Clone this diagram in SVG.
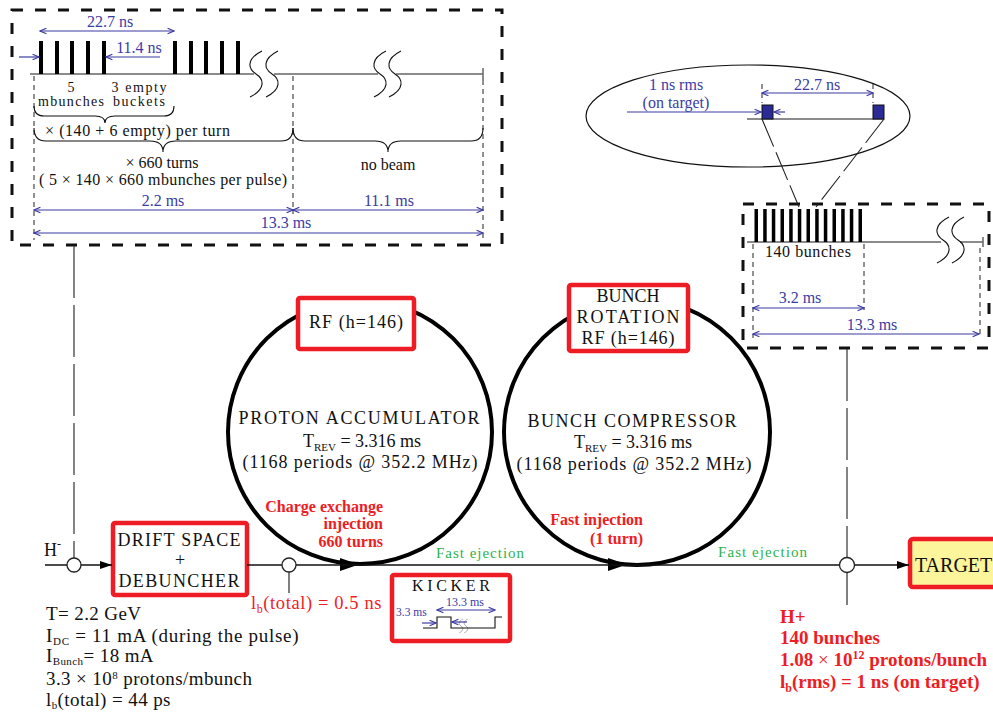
<svg xmlns="http://www.w3.org/2000/svg" width="993" height="715" viewBox="0 0 993 715">
<style>
.t{font-family:"Liberation Serif","Times New Roman",serif;fill:#111}
.b{fill:#3b3ba3}
.r{fill:#ee1c24;font-weight:bold}
.rr{fill:#ee1c24}
.g{fill:#2db34d}
.m{text-anchor:middle}
.e{text-anchor:end}
.box{fill:#fff;stroke:#ee1c24;stroke-width:4.5}
.tb{fill:none;stroke:#111;stroke-width:3;stroke-dasharray:11 12}
.dl{fill:none;stroke:#222;stroke-width:1;stroke-dasharray:5 4}
.ld{fill:none;stroke:#333;stroke-width:1.2;stroke-dasharray:52 7}
.ar{stroke:#3b3ba3;stroke-width:1.2;fill:none;marker-start:url(#ah);marker-end:url(#ah)}
.ae{stroke:#3b3ba3;stroke-width:1.2;fill:none;marker-end:url(#ah)}
.bl{stroke:#666;stroke-width:1.5;fill:none}
.ring{fill:none;stroke:#000;stroke-width:4}
.brk{fill:none;stroke:#111;stroke-width:1.1}
.jn{fill:#fff;stroke:#222;stroke-width:1.3}
.bar{fill:#000}
</style>
<defs>
<marker id="ah" viewBox="0 0 10 10" refX="9" refY="5" markerWidth="8" markerHeight="8" orient="auto-start-reverse" markerUnits="userSpaceOnUse"><path d="M1,1.5 L9,5 L1,8.5" fill="none" stroke="#3b3ba3" stroke-width="1.5"/></marker>
<marker id="fa" viewBox="0 0 12 10" refX="12" refY="5" markerWidth="13" markerHeight="10" orient="auto" markerUnits="userSpaceOnUse"><path d="M0,1 L12,5 L0,9 z" fill="#000"/></marker>
<path id="ss" d="M6,-23 C-10,-15 -8,-5 0,0 C8,5 10,15 -6,23"/>
</defs>

<g id="pulse-structure">
<rect class="tb" x="12" y="10" width="490" height="235"/>
<path class="bl" d="M30,74 H254 M274,74 H378 M396,74 H483 M483,68 V80"/>
<g class="bar">
<rect x="39" y="41" width="4" height="33"/><rect x="55" y="41" width="4" height="33"/><rect x="70" y="41" width="4" height="33"/><rect x="86" y="41" width="4" height="33"/><rect x="102" y="41" width="4" height="33"/>
<rect x="173" y="41" width="4" height="33"/><rect x="189" y="41" width="4" height="33"/><rect x="204" y="41" width="4" height="33"/><rect x="220" y="41" width="4" height="33"/><rect x="236" y="41" width="4" height="33"/>
</g>
<g class="brk">
<use href="#ss" transform="translate(256,74)"/><use href="#ss" transform="translate(272,74)"/>
<use href="#ss" transform="translate(380,74)"/><use href="#ss" transform="translate(395,74)"/>
</g>
<path class="dl" d="M34,76 V240 M293,76 V214 M483,80 V240"/>
<path class="ar" d="M40,31 H174"/>
<path class="ae" d="M19,57 H39"/>
<path class="ae" d="M160,57 H106"/>
<path class="ar" d="M34,210 H293"/>
<path class="ar" d="M293,210 H483"/>
<path class="ar" d="M34,233 H483"/>
<path class="brk" d="M34,106 Q34,116 44,116 H95 Q105,116 105,123 Q105,116 115,116 H164 Q174,116 174,106"/>
<path class="brk" d="M34,128 Q34,141 46,141 H150 Q163,141 163,152 Q163,141 176,141 H281 Q293,141 293,128"/>
<path class="brk" d="M293,128 Q293,141 305,141 H375 Q388,141 388,152 Q388,141 401,141 H471 Q483,141 483,128"/>
<text class="t b m" x="110" y="27" font-size="16">22.7 ns</text>
<text class="t b m" x="139" y="53" font-size="16">11.4 ns</text>
<text class="t m" x="71" y="92" font-size="14">5</text>
<text class="t m" x="71" y="106" font-size="14" textLength="66" lengthAdjust="spacing">mbunches</text>
<text class="t m" x="139" y="92" font-size="14" textLength="55" lengthAdjust="spacing">3 empty</text>
<text class="t m" x="139" y="106" font-size="14" textLength="52" lengthAdjust="spacing">buckets</text>
<text class="t" x="45" y="136" font-size="16" textLength="185" lengthAdjust="spacing">× (140 + 6 empty) per turn</text>
<text class="t m" x="162" y="168" font-size="16">× 660 turns</text>
<text class="t m" x="163" y="185" font-size="16" textLength="248" lengthAdjust="spacing">( 5 × 140 × 660 mbunches per pulse)</text>
<text class="t m" x="388" y="170" font-size="16">no beam</text>
<text class="t b m" x="163" y="206" font-size="16">2.2 ms</text>
<text class="t b m" x="389" y="206" font-size="16">11.1 ms</text>
<text class="t b m" x="286" y="228" font-size="16">13.3 ms</text>
</g>

<g id="zoom-bunch">
<ellipse cx="748" cy="116" rx="162" ry="51" fill="none" stroke="#111" stroke-width="1.2"/>
<path class="bl" d="M747,119 H884"/>
<rect x="762" y="105" width="11" height="14" fill="#2b2b96" stroke="#111" stroke-width="1"/>
<rect x="873" y="105" width="11" height="14" fill="#2b2b96" stroke="#111" stroke-width="1"/>
<path class="dl" d="M762,84 V103 M873,84 V103"/>
<path class="ar" d="M762,93 H873"/>
<path class="ae" d="M627,112 H761"/>
<path class="ae" d="M785,112 H774"/>
<text class="t b m" x="676" y="90" font-size="16">1 ns rms</text>
<text class="t b m" x="676" y="108" font-size="16">(on target)</text>
<text class="t b m" x="817" y="90" font-size="16">22.7 ns</text>
</g>

<g id="extracted-pulse">
<rect class="tb" x="743" y="204" width="246" height="144"/>
<path class="bl" d="M747,242 H941 M960,242 H983 M983,237 V247"/>
<g class="bar">
<rect x="754.5" y="209" width="3.5" height="33"/><rect x="763.2" y="209" width="3.5" height="33"/><rect x="771.8" y="209" width="3.5" height="33"/><rect x="780.5" y="209" width="3.5" height="33"/><rect x="789.2" y="209" width="3.5" height="33"/><rect x="797.8" y="209" width="3.5" height="33"/><rect x="806.5" y="209" width="3.5" height="33"/><rect x="815.2" y="209" width="3.5" height="33"/><rect x="823.8" y="209" width="3.5" height="33"/><rect x="832.5" y="209" width="3.5" height="33"/><rect x="841.2" y="209" width="3.5" height="33"/><rect x="849.8" y="209" width="3.5" height="33"/><rect x="858.5" y="209" width="3.5" height="33"/>
</g>
<g class="brk"><use href="#ss" transform="translate(943,240)"/><use href="#ss" transform="translate(958,240)"/></g>
<path class="dl" d="M753,244 V338 M864,244 V310 M980,248 V338"/>
<path class="ar" d="M753,308 H864"/>
<path class="ar" d="M753,334 H979"/>
<text class="t m" x="808" y="257" font-size="16" textLength="86" lengthAdjust="spacing">140 bunches</text>
<text class="t b m" x="800" y="303" font-size="16">3.2 ms</text>
<text class="t b m" x="872" y="330" font-size="16">13.3 ms</text>
</g>

<g id="proton-accumulator">
<circle class="ring" cx="360" cy="432" r="132"/>
<polygon points="340,558 359,564.5 340,571" fill="#000"/>
<text class="t m" x="359" y="424" font-size="18" textLength="241" lengthAdjust="spacing">PROTON ACCUMULATOR</text>
<text class="t m" x="362" y="447" font-size="18">T<tspan font-size="11" dy="4">REV</tspan><tspan dy="-4"> = 3.316 ms</tspan></text>
<text class="t m" x="360" y="468" font-size="18" textLength="235" lengthAdjust="spacing">(1168 periods @ 352.2 MHz)</text>
</g>

<g id="bunch-compressor">
<circle class="ring" cx="637" cy="432" r="133"/>
<polygon points="608,558 627,564.5 608,571" fill="#000"/>
<text class="t m" x="632" y="427" font-size="18" textLength="209" lengthAdjust="spacing">BUNCH COMPRESSOR</text>
<text class="t m" x="633" y="448" font-size="18">T<tspan font-size="11" dy="4">REV</tspan><tspan dy="-4"> = 3.316 ms</tspan></text>
<text class="t m" x="634" y="470" font-size="18" textLength="235" lengthAdjust="spacing">(1168 periods @ 352.2 MHz)</text>
</g>

<g id="rf-accumulator">
<rect class="box" x="298" y="298" width="116" height="51" rx="2"/>
<text class="t m" x="356" y="328" font-size="18" textLength="94" lengthAdjust="spacing">RF (h=146)</text>
</g>

<g id="bunch-rotation">
<rect class="box" x="569" y="285" width="119" height="66" rx="2"/>
<text class="t m" x="628" y="302" font-size="18">BUNCH</text>
<text class="t m" x="628" y="323" font-size="18" textLength="103" lengthAdjust="spacing">ROTATION</text>
<text class="t m" x="628" y="344" font-size="18" textLength="93" lengthAdjust="spacing">RF (h=146)</text>
</g>

<g id="drift-space">
<rect class="box" x="113" y="523" width="134" height="72" rx="2"/>
<text class="t m" x="179" y="546" font-size="18" textLength="123" lengthAdjust="spacing">DRIFT SPACE</text>
<text class="t m" x="180" y="566" font-size="18">+</text>
<text class="t m" x="179" y="587" font-size="18" textLength="121" lengthAdjust="spacing">DEBUNCHER</text>
</g>

<g id="kicker">
<rect class="box" x="392" y="575" width="118" height="66" rx="2"/>
<text class="t m" x="451" y="591" font-size="16" textLength="78" lengthAdjust="spacing">KICKER</text>
<path d="M423,628 H437 V617 H451 V628 H495 V617 H502" fill="none" stroke="#111" stroke-width="1.1"/>
<g class="brk"><use href="#ss" transform="translate(461,626) scale(0.3)"/><use href="#ss" transform="translate(466,626) scale(0.3)"/></g>
<path class="ar" d="M437,610 H495"/>
<path class="ae" d="M422,623 H436"/>
<path class="ae" d="M467,622 H452"/>
<text class="t b" x="396" y="616" font-size="11.5">3.3 ms</text>
<text class="t b" x="446" y="606" font-size="12">13.3 ms</text>
</g>

<g id="target">
<rect x="910" y="539" width="100" height="48" rx="3" fill="#fdf59c" stroke="#ee1c24" stroke-width="4.5"/>
<text class="t" x="915" y="572" font-size="20">TARGET</text>
</g>

<g id="connectors">
<path d="M45,565 H112" fill="none" stroke="#111" stroke-width="1.3" marker-end="url(#fa)"/>
<path d="M247,565 H909" fill="none" stroke="#111" stroke-width="1.3" marker-end="url(#fa)"/>
<path class="ld" d="M74,246 V558"/>
<path class="ld" d="M847,349 V558"/>
<path d="M289,572 V593 M847,572 V605" fill="none" stroke="#555" stroke-width="1.5"/>
<path d="M762,119 L799,207 M884,119 L816,207" fill="none" stroke="#222" stroke-width="1.1" stroke-dasharray="30 6"/>
</g>

<g id="junctions">
<circle class="jn" cx="74" cy="565" r="7"/>
<circle class="jn" cx="289" cy="565" r="7"/>
<circle class="jn" cx="847" cy="565" r="7.5"/>
</g>

<g id="labels">
<text class="t" x="44" y="556" font-size="18">H<tspan font-size="12" dy="-8">-</tspan></text>
<text class="t r e" x="383" y="512" font-size="16">Charge exchange</text>
<text class="t r e" x="383" y="529" font-size="16">injection</text>
<text class="t r e" x="383" y="547" font-size="16">660 turns</text>
<text class="t r e" x="643" y="525" font-size="16">Fast injection</text>
<text class="t r e" x="643" y="544" font-size="16">(1 turn)</text>
<text class="t g" x="436" y="558" font-size="15" textLength="88" lengthAdjust="spacing">Fast ejection</text>
<text class="t g" x="718" y="557" font-size="15" textLength="89" lengthAdjust="spacing">Fast ejection</text>
<text class="t rr" x="251" y="609" font-size="18.5" letter-spacing="0.6">l<tspan font-size="12" dy="4">b</tspan><tspan dy="-4">(total) = 0.5 ns</tspan></text>
<text class="t" x="46" y="620" font-size="19" letter-spacing="0.4">T= 2.2 GeV</text>
<text class="t" x="46" y="642" font-size="19" letter-spacing="0.7">I<tspan font-size="11" dy="3">DC</tspan><tspan dy="-3">  = 11 mA (during the pulse)</tspan></text>
<text class="t" x="46" y="662" font-size="19" letter-spacing="0.4">I<tspan font-size="11" dy="3">Bunch</tspan><tspan dy="-3">= 18 mA</tspan></text>
<text class="t" x="46" y="685" font-size="19" letter-spacing="0.4">3.3 × 10<tspan font-size="11" dy="-6">8</tspan><tspan dy="6"> protons/mbunch</tspan></text>
<text class="t" x="46" y="706" font-size="19" letter-spacing="0.4">l<tspan font-size="11" dy="3">b</tspan><tspan dy="-3">(total) = 44 ps</tspan></text>
<text class="t r" x="780" y="623" font-size="19">H+</text>
<text class="t r" x="780" y="644" font-size="19">140 bunches</text>
<text class="t r" x="780" y="666" font-size="19">1.08 <tspan font-weight="normal">×</tspan> 10<tspan font-size="12" dy="-7">12</tspan><tspan dy="7"> protons/bunch</tspan></text>
<text class="t r" x="780" y="688" font-size="19">l<tspan font-size="12" dy="4">b</tspan><tspan dy="-4">(rms) = 1 ns (on target)</tspan></text>
</g>
</svg>
